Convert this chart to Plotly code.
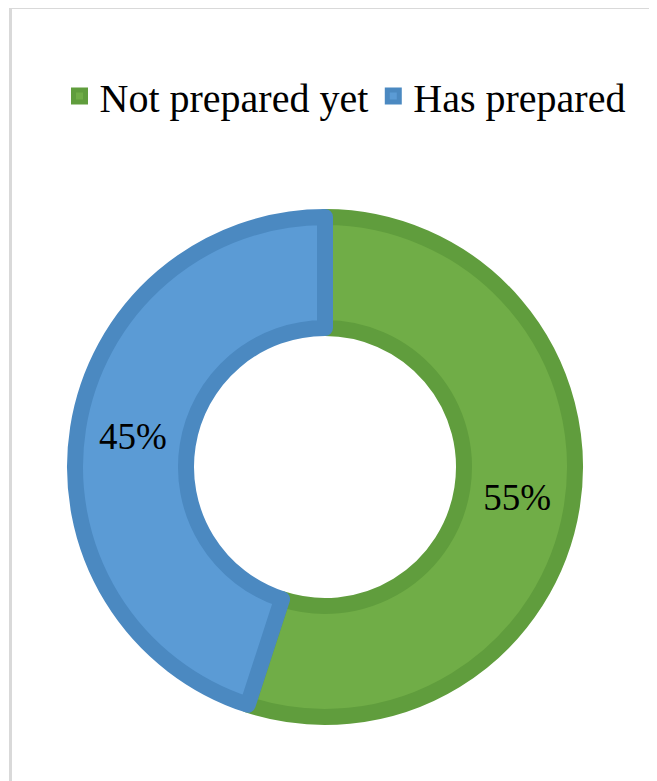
import plotly.graph_objects as go

OFF = 8  # default page body margin
W, H = 657 - OFF, 781 - OFF

labels = ["Not prepared yet", "Has prepared"]
values = [55, 45]
fill_colors = ["#70AD47", "#5B9BD5"]
edge_colors = ["#609D3D", "#4B89C1"]

# geometry in reference pixels
cx, cy, r = 325 - OFF, 467 - OFF, 250
fig = go.Figure(go.Pie(
    labels=labels,
    values=values,
    sort=False,
    direction="clockwise",
    rotation=0,
    hole=0.556,
    marker=dict(colors=fill_colors, line=dict(color=edge_colors, width=16)),
    texttemplate="%{percent:.0%}",
    textposition="inside",
    insidetextorientation="horizontal",
    insidetextfont=dict(family="Liberation Serif", size=37, color="#000000"),
    domain=dict(x=[(cx - r) / W, (cx + r) / W], y=[1 - (cy + r) / H, 1 - (cy - r) / H]),
    hoverinfo="label+percent",
))

fig.update_layout(
    width=W, height=H,
    margin=dict(l=0, r=0, t=0, b=0),
    paper_bgcolor="white",
    plot_bgcolor="white",
    showlegend=True,
    legend=dict(
        orientation="h",
        x=(345 - OFF) / W, xanchor="center",
        y=1 - (96 - OFF) / H, yanchor="middle",
        font=dict(family="Liberation Serif", size=40, color="#000000"),
        itemwidth=30,
        tracegroupgap=0,
    ),
    shapes=[
        dict(type="line", xref="paper", yref="paper",
             x0=(10.5 - OFF) / W, x1=(10.5 - OFF) / W, y0=0, y1=1 - (6 - OFF) / H,
             line=dict(color="#D9D9D9", width=3)),
        dict(type="line", xref="paper", yref="paper",
             x0=(9 - OFF) / W, x1=1, y0=1 - (7.5 - OFF) / H, y1=1 - (7.5 - OFF) / H,
             line=dict(color="#D9D9D9", width=3)),
    ],
)

fig.write_html("out.html")
